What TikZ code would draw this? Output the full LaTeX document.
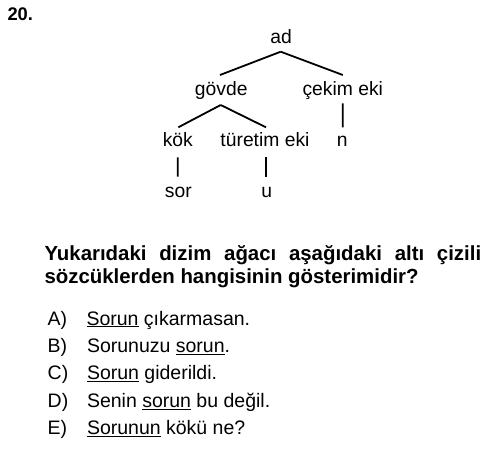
\documentclass[tikz,border=0pt]{standalone}
\usepackage{fontspec}
\setmainfont{Liberation Sans}
\usetikzlibrary{calc}
\newcommand{\ulw}[1]{\underline{#1}}
\begin{document}
\begin{tikzpicture}[x=1pt,y=-1pt,
  treetext/.style={font=\fontsize{19.3}{22}\selectfont, anchor=base, inner sep=0pt},
  optlabel/.style={font=\fontsize{19.5}{23}\selectfont, anchor=base west, inner sep=0pt},
  opttext/.style={font=\fontsize{19.5}{23}\selectfont, anchor=base west, inner sep=0pt},
  qtext/.style={font=\fontsize{20.4}{23}\bfseries\selectfont, anchor=base west, inner sep=0pt},
  branch/.style={line width=1.8pt, black}
]
\useasboundingbox (0,0) rectangle (500,449);
\fill[white] (0,0) rectangle (500,449);

% question number
\node[qtext, font=\fontsize{18.3}{21}\bfseries\selectfont] (num) at (7.3,20.7) {20.};

% tree
\node[treetext] (ad)  at (281.2,43.3) {ad};
\node[treetext] (govde) at (221.2,96) {gövde};
\node[treetext] (cekim) at (342.8,96) {çekim eki};
\node[treetext] (kok) at (177.8,146.7) {kök};
\node[treetext] (turetim) at (265,146.7) {türetim eki};
\node[treetext] (n) at (342.3,146.7) {n};
\node[treetext] (sor) at (178.3,197.3) {sor};
\node[treetext] (u) at (266.7,197.3) {u};

\draw[branch] ($(ad.base)+(-0.5,8.4)$) -- ($(govde.base)+(-1.2,-21)$);
\draw[branch] ($(ad.base)+(-0.5,8.4)$) -- ($(cekim.base)+(0,-21)$);
\draw[branch] ($(govde.base)+(-0.5,9)$) -- ($(kok.base)+(0.5,-19.4)$);
\draw[branch] ($(govde.base)+(-0.5,9)$) -- ($(turetim.base)+(1,-19.4)$);
\draw[branch] ($(cekim.base)+(0,7.3)$) -- ($(n.base)+(0.4,-19.4)$);
\draw[branch] ($(kok.base)+(0,10.6)$) -- ($(sor.base)+(-0.6,-20.6)$);
\draw[branch] ($(turetim.base)+(1,10.6)$) -- ($(u.base)+(-0.7,-20.6)$);

% question
\node[qtext] (q1) at (44.3,260.7) {\makebox[436.7pt][s]{Yukarıdaki dizim ağacı aşağıdaki altı çizili}};
\node[qtext] (q2) at (44.3,283.3) {sözcüklerden hangisinin gösterimidir?};

% options
\node[optlabel] (la) at (47.5,325) {A)};
\node[opttext]  (ta) at (86.3,325) {\ulw{Sorun} çıkarmasan.};
\node[optlabel] (lb) at (47.5,352.4) {B)};
\node[opttext]  (tb) at (86.8,352.4) {Sorunuzu \ulw{sorun}.};
\node[optlabel] (lc) at (47.5,379.8) {C)};
\node[opttext]  (tc) at (86.8,379.8) {\ulw{Sorun} giderildi.};
\node[optlabel] (ld) at (47.5,407.2) {D)};
\node[opttext]  (td) at (86.8,407.2) {Senin \ulw{sorun} bu değil.};
\node[optlabel] (le) at (47.5,434.6) {E)};
\node[opttext]  (te) at (86.8,434.6) {\ulw{Sorunun} kökü ne?};
\end{tikzpicture}
\end{document}
